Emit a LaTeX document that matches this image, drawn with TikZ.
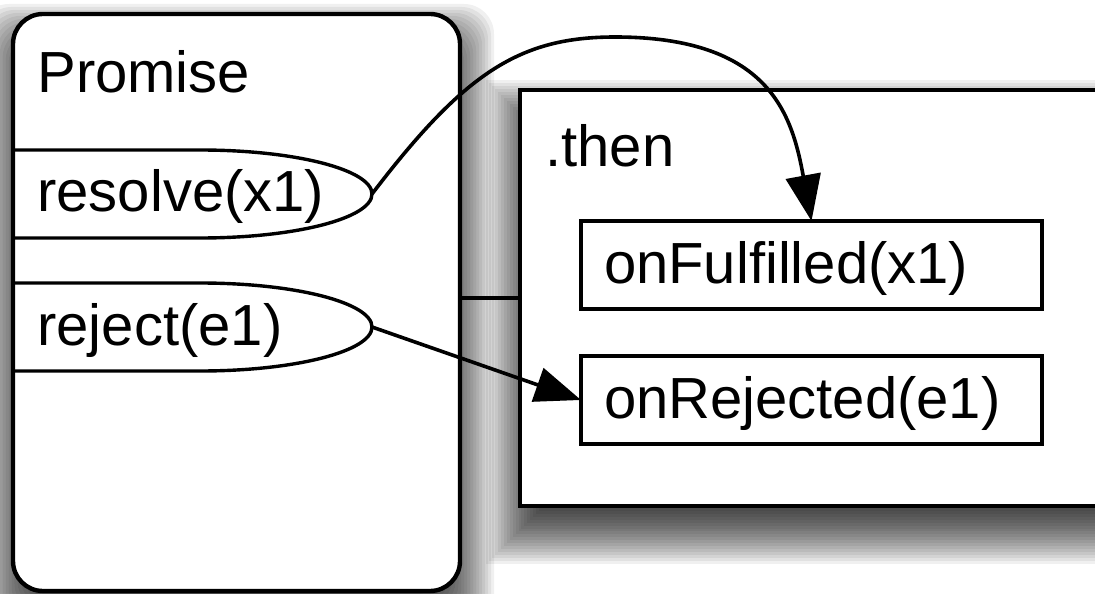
\documentclass[tikz,border=0pt]{standalone}
\usepackage{fontspec}
\setmainfont{Liberation Sans}
\usetikzlibrary{arrows.meta}

\begin{document}
\begin{tikzpicture}[x=0.5pt,y=-0.5pt,
  txt/.style={font=\fontsize{29}{34}\selectfont},
  title/.style={txt, anchor=base west, inner sep=0pt},
  container/.style={draw, line width=2.2pt, fill=white, inner sep=0pt, outer sep=0pt},
  handler/.style={txt, draw, line width=2pt, fill=white, outer sep=0pt,
      inner xsep=11.5pt, inner ysep=0pt, text width=207.5pt, align=left,
      text height=31pt, text depth=13pt},
  slot/.style={line width=1.7pt},
  flow/.style={line width=1.8pt, -{Triangle[length=23pt,width=17.5pt]}},
  shadowlayer/.style={fill=black, fill opacity=0.058, draw=none}
]
\useasboundingbox (0,0) rectangle (1095,593);
\fill[white] (0,0) rectangle (1095,593);
\clip (0,0) rectangle (1095,593);

% invisible frames that fix the geometry of the two objects
\path (236.5,302.5) node[inner sep=0pt, outer sep=0pt, minimum width=223.5pt, minimum height=288.5pt] (pframe) {};
\path (830,298) node[inner sep=0pt, outer sep=0pt, minimum width=310pt, minimum height=208pt] (tframe) {};

% soft drop shadows, built from stacked translucent layers
\foreach \i in {0,...,23} {
  \pgfmathsetmacro\e{-17+\i*34/23}
  \pgfmathsetmacro\ne{-\e}
  \pgfmathsetmacro\a{\e-12}
  \pgfmathsetmacro\b{-\e-12}
  \fill[shadowlayer, rounded corners=15pt]
    ([shift={(\ne pt,\a pt)}]pframe.north west) rectangle ([shift={(\e pt,\b pt)}]pframe.south east);
  \fill[shadowlayer]
    ([shift={(\ne pt,\a pt)}]tframe.north west) rectangle ([shift={(\e pt,\b pt)}]tframe.south east);
}

% the promise object and the object returned by .then
\node[container, rounded corners=15pt, minimum width=223.5pt, minimum height=288.5pt]
  (promise) at (pframe) {};
\node[container, minimum width=310pt, minimum height=208pt]
  (then) at (tframe) {};

\node[title] (ptitle) at (37,93) {Promise};
\node[title] (ttitle) at (545,167) {.then};

% resolve / reject slots of the promise
\draw[slot] (13,150) -- (200,150) .. controls (295,150) and (372,169.7) .. (372,194)
  coordinate (rtip) .. controls (372,218.3) and (295,238) .. (200,238) -- (13,238);
\draw[slot] (13,283) -- (200,283) .. controls (295,283) and (372,302.7) .. (372,327)
  coordinate (jtip) .. controls (372,351.3) and (295,371) .. (200,371) -- (13,371);
\node[title] (resolve) at (37,212) {resolve(x1)};
\node[title] (reject) at (37,345) {reject(e1)};

% handlers registered with .then
\node[handler] (fulfilled) at (811.5,265) {onFulfilled(x1)};
\node[handler] (rejected) at (811.5,400) {onRejected(e1)};

% link between the two objects
\draw[line width=2.2pt] (then.west) -- (then.west -| promise.east);

% callbacks
\draw[flow] (rtip) .. controls (465,72) and (520,37) .. (615,37)
  .. controls (770,37) and (792,115) .. (fulfilled.north);
\draw[flow] (jtip) -- (rejected.west);
\end{tikzpicture}
\end{document}
